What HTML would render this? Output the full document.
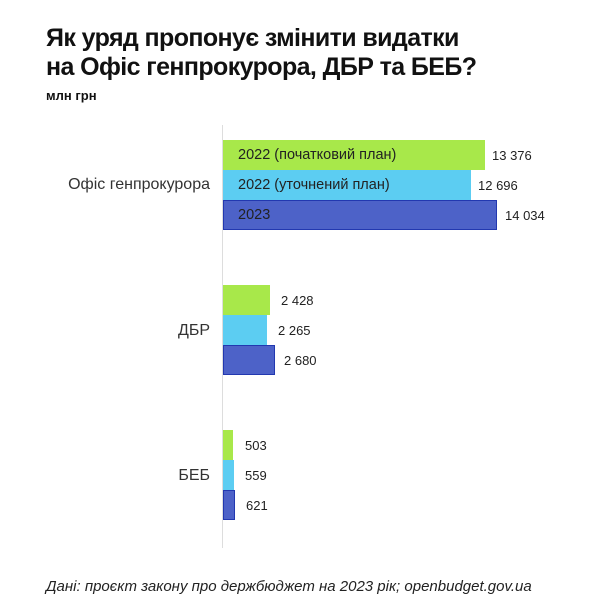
<!DOCTYPE html>
<html><head><meta charset="utf-8"><style>
body{margin:0;width:600px;height:613px;background:#fff;font-family:"Liberation Sans","DejaVu Sans",sans-serif;color:#111;position:relative;overflow:hidden}
.t{position:absolute;left:46px;top:24px;font-size:25px;font-weight:bold;line-height:29px;letter-spacing:-0.6px}
.u{position:absolute;left:46px;top:88px;font-size:13px;font-weight:bold}
.ax{position:absolute;left:222px;top:125px;width:1px;height:423px;background:#ddd}
.b{position:absolute;left:223px;height:30px;box-sizing:border-box}
.g{background:#a8e84a}.l{background:#5ccdf2}.d{background:#4d62c8;border:1px solid #2238b0}
.bl{position:absolute;left:15px;top:7px;font-size:14.5px;color:#222}
.v{position:absolute;font-size:13px;color:#222}
.c{position:absolute;font-size:16px;color:#333;text-align:right;right:390px}
.f{position:absolute;left:46px;top:578px;font-size:15px;font-style:italic;color:#222}
</style></head><body>
<div class="t">Як уряд пропонує змінити видатки<br>на Офіс генпрокурора, ДБР та БЕБ?</div>
<div class="u">млн грн</div>
<div class="ax"></div>
<div class="c" style="top:176px">Офіс генпрокурора</div>
<div class="b g" style="top:140px;width:262px"><span class="bl">2022 (початковий план)</span></div>
<div class="b l" style="top:170px;width:248px"><span class="bl">2022 (уточнений план)</span></div>
<div class="b d" style="top:200px;width:274px"><span class="bl" style="left:14px;top:6px">2023</span></div>
<div class="v" style="left:492px;top:148px">13 376</div>
<div class="v" style="left:478px;top:178px">12 696</div>
<div class="v" style="left:505px;top:208px">14 034</div>
<div class="c" style="top:322px">ДБР</div>
<div class="b g" style="top:285px;width:47px"></div>
<div class="b l" style="top:315px;width:44px"></div>
<div class="b d" style="top:345px;width:52px"></div>
<div class="v" style="left:281px;top:293px">2 428</div>
<div class="v" style="left:278px;top:323px">2 265</div>
<div class="v" style="left:284px;top:353px">2 680</div>
<div class="c" style="top:467px">БЕБ</div>
<div class="b g" style="top:430px;width:10px"></div>
<div class="b l" style="top:460px;width:11px"></div>
<div class="b d" style="top:490px;width:12px"></div>
<div class="v" style="left:245px;top:438px">503</div>
<div class="v" style="left:245px;top:468px">559</div>
<div class="v" style="left:246px;top:498px">621</div>
<div class="f">Дані: проєкт закону про держбюджет на 2023 рік; openbudget.gov.ua</div>
</body></html>
